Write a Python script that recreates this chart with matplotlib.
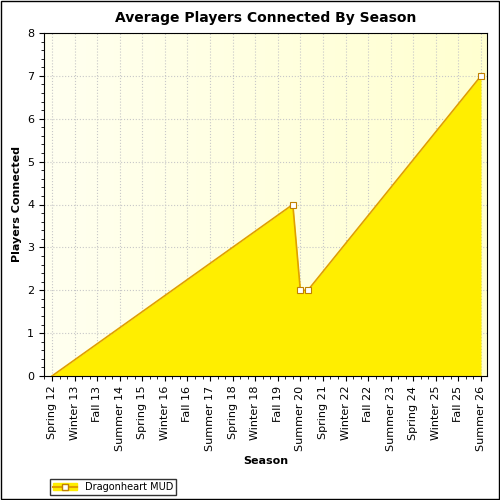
import matplotlib
matplotlib.use("Agg")
import matplotlib.pyplot as plt
import numpy as np

tick_labels = ["Spring 12","Winter 13","Fall 13","Summer 14","Spring 15","Winter 16","Fall 16",
               "Summer 17","Spring 18","Winter 18","Fall 19","Summer 20","Spring 21","Winter 22",
               "Fall 22","Summer 23","Spring 24","Winter 25","Fall 25","Summer 26"]
tick_pos = [i*3 for i in range(len(tick_labels))]
season_idx = [0, 32, 33, 34, 57]
players = [0, 4, 2, 2, 7]

fig = plt.figure(figsize=(5,5), dpi=100)
fig.patch.set_facecolor("white")
fig.add_artist(plt.Rectangle((0.002,0.002),0.996,0.996, fill=False, ec="black", lw=1, transform=fig.transFigure))
ax = fig.add_axes([0.088, 0.248, 0.886, 0.686])
ax.set_xlim(-1.06, 57.8)
ax.set_ylim(0, 8)
grad = np.linspace(0,1,256).reshape(1,-1)
from matplotlib.colors import LinearSegmentedColormap
cm = LinearSegmentedColormap.from_list("g", ["#fffff0", "#ffffd0"])
ax.imshow(grad, cmap=cm, extent=[-1.06,57.8,0,8], aspect="auto", zorder=0)
ax.fill_between(season_idx, players, 0, color="#ffee00", zorder=2, lw=0)
ax.plot(season_idx, players, color="#e0a000", lw=1.2, zorder=3)
ax.plot(season_idx[1:], players[1:], ls="none", marker="s", ms=5, mfc="white", mec="#c08000", mew=0.8, zorder=4, clip_on=False)
ax.set_xticks(tick_pos)
ax.set_xticklabels(tick_labels, rotation=90, fontsize=8, family="DejaVu Sans")
ax.set_yticks(range(9))
ax.tick_params(labelsize=8)
from matplotlib.ticker import AutoMinorLocator
ax.xaxis.set_minor_locator(AutoMinorLocator(3))
ax.yaxis.set_minor_locator(AutoMinorLocator(5))
ax.grid(True, color="#c8c8c8", ls=":", lw=0.8, zorder=1)
ax.set_xlabel("Season", fontsize=8, fontweight="bold")
ax.set_ylabel("Players Connected", fontsize=8, fontweight="bold")
ax.set_title("Average Players Connected By Season", fontsize=10, fontweight="bold", pad=8)
from matplotlib.lines import Line2D
from matplotlib.patches import Patch
h = (Patch(color="#ffee00"), Line2D([],[],color="#e0a000",marker="s",mfc="white",mec="#c08000",ms=5))
leg = fig.legend([h], ["Dragonheart MUD"], loc="lower left", bbox_to_anchor=(0.09,0.0), fontsize=7,
                 frameon=True, fancybox=False, edgecolor="black", handlelength=2.5, borderpad=0.3)
fig.savefig("out.png", dpi=100)
